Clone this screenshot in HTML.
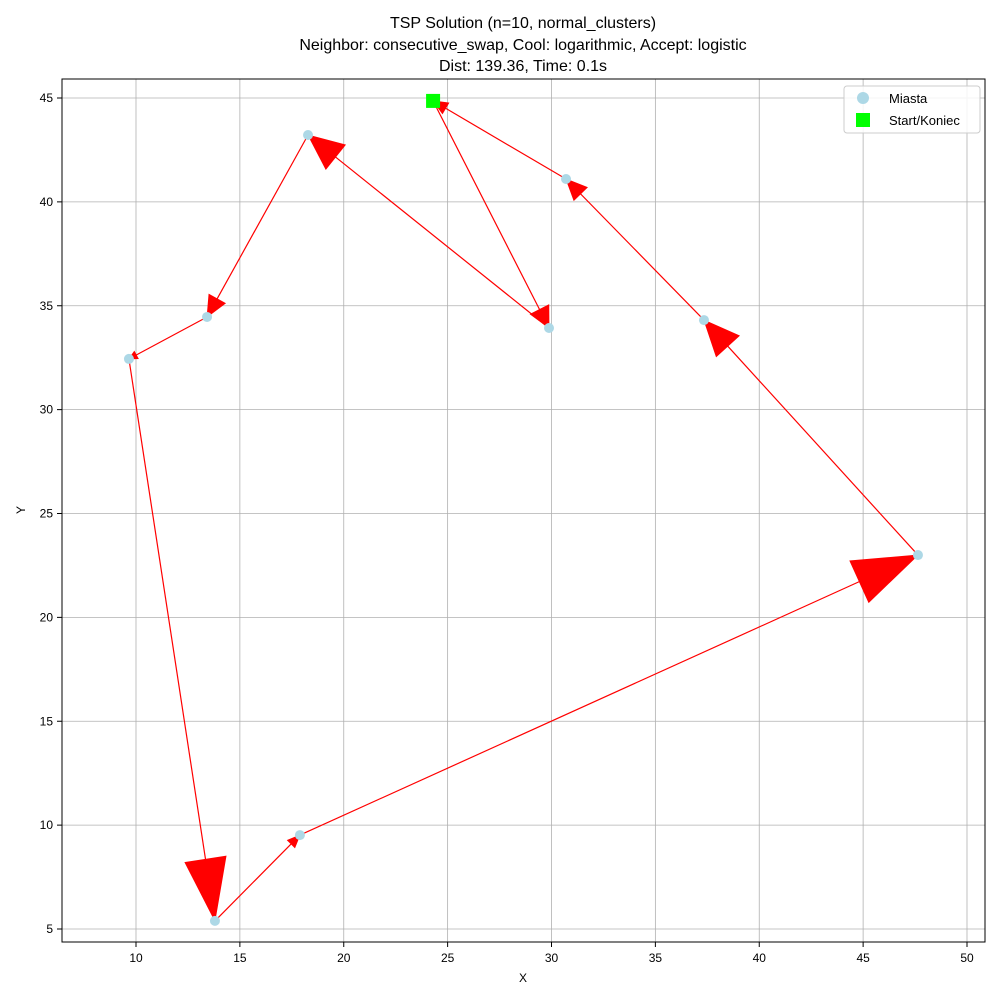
<!DOCTYPE html>
<html><head><meta charset="utf-8"><style>
body{margin:0;background:#fff}
svg text{font-family:"Liberation Sans","DejaVu Sans",sans-serif}
</style></head><body>
<svg id="chart" width="1000" height="1000" xmlns="http://www.w3.org/2000/svg">
<rect width="1000" height="1000" fill="#fff"/>
<g id="title" font-size="16" text-anchor="middle" fill="#000">
<text x="523" y="28">TSP Solution (n=10, normal_clusters)</text>
<text x="523" y="50">Neighbor: consecutive_swap, Cool: logarithmic, Accept: logistic</text>
<text x="523" y="71">Dist: 139.36, Time: 0.1s</text>
</g>
<g id="grid"></g>
<g id="ticks" font-size="12" fill="#000"></g>
<g id="route"></g>
<g id="cities"></g>
<rect x="62" y="79" width="923" height="863" fill="none" stroke="#000" stroke-width="1"/>
<text x="523" y="982" font-size="12" text-anchor="middle">X</text>
<text x="25" y="510" font-size="12" text-anchor="middle" transform="rotate(-90 25 510)">Y</text>
<g>
<rect x="844" y="86" width="136" height="47" rx="3" fill="#fff" fill-opacity="0.85" stroke="#ccc"/>
<circle cx="863" cy="98" r="6" fill="#add8e6"/>
<text x="889" y="103" font-size="13">Miasta</text>
<rect x="856" y="113" width="14" height="14" fill="#00ff00"/>
<text x="889" y="125" font-size="13">Start/Koniec</text>
</g>
</svg>
<script>
const xTicks=[10,15,20,25,30,35,40,45,50];
const yTicks=[5,10,15,20,25,30,35,40,45];
const cityX=[24.3,29.88,18.28,13.42,9.66,13.8,17.89,47.64,37.34,30.7];
const cityY=[44.86,33.93,43.22,34.46,32.44,5.39,9.52,23.0,34.31,41.1];
const headLen=[1.0,1.7,1.0,0.4,3.0,0.6,3.1,1.7,1.0,0.7];
const headWid=[1.0,1.5,0.9,0.4,2.0,0.5,2.2,1.5,0.9,0.6];
const sx=v=>136+(v-10)*20.775;
const sy=v=>98+(45-v)*20.775;
const NS="http://www.w3.org/2000/svg";
function mk(tag,attrs,parent){const e=document.createElementNS(NS,tag);for(const k in attrs)e.setAttribute(k,attrs[k]);parent.appendChild(e);return e;}
const grid=document.getElementById('grid'),ticks=document.getElementById('ticks');
xTicks.forEach(t=>{const x=sx(t);
const l=mk('line',{x1:x,x2:x,y1:79,y2:942,stroke:'#b0b0b0','stroke-width':0.8},grid);


mk('line',{x1:x,x2:x,y1:942,y2:947,stroke:'#000'},ticks);
const tx=mk('text',{x:x,y:962,'text-anchor':'middle'},ticks);tx.textContent=t;

});
yTicks.forEach(t=>{const y=sy(t);
const l=mk('line',{x1:62,x2:985,y1:y,y2:y,stroke:'#b0b0b0','stroke-width':0.8},grid);


mk('line',{x1:57,x2:62,y1:y,y2:y,stroke:'#000'},ticks);
const tx=mk('text',{x:53,y:y+4,'text-anchor':'end'},ticks);tx.textContent=t;

});
const route=document.getElementById('route');
const n=cityX.length,k=20.775;
for(let i=0;i<n;i++){
 const j=(i+1)%n;
 const x1=sx(cityX[i]),y1=sy(cityY[i]),x2=sx(cityX[j]),y2=sy(cityY[j]);
 const dx=x2-x1,dy=y2-y1,L=Math.hypot(dx,dy),ux=dx/L,uy=dy/L,px=-uy,py=ux;
 const hl=headLen[i]*k,hw=headWid[i]*k/2;
 const bx=x2-ux*hl,by=y2-uy*hl;
 const g=mk('g',{},route);
 
 
 mk('line',{x1:x1,y1:y1,x2:bx,y2:by,stroke:'#ff0000','stroke-width':1.2},g);
 mk('polygon',{points:`${x2},${y2} ${bx+px*hw},${by+py*hw} ${bx-px*hw},${by-py*hw}`,fill:'#ff0000',stroke:'#ff0000','stroke-width':0.8},g);
}
const cities=document.getElementById('cities');
for(let i=0;i<n;i++){
 const c=mk('circle',{cx:sx(cityX[i]),cy:sy(cityY[i]),r:5,fill:'#add8e6'},cities);
 
 
}
const s=mk('rect',{x:sx(cityX[0])-7,y:sy(cityY[0])-7,width:14,height:14,fill:'#00ff00'},cities);


</script>
</body></html>
